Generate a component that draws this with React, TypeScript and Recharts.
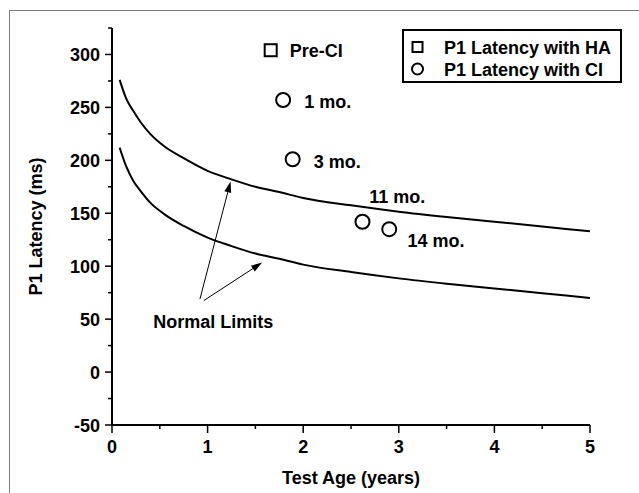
import {
  ComposedChart,
  Legend,
  Line,
  ReferenceDot,
  ReferenceLine,
  Scatter,
  XAxis,
  YAxis,
} from 'recharts'

const FONT = '"Liberation Sans", Arial, Helvetica, sans-serif'

// normal limit curves
const curveAges = [0.08, 0.15, 0.22, 0.3, 0.4, 0.55, 0.75, 1, 1.25, 1.5, 1.75, 2, 2.5, 3, 3.5, 4, 4.5, 5]
const upperLimit = [276, 258, 247, 236, 225, 213, 202, 190, 182, 175, 170, 164.5, 157.5, 151.5, 146.5, 142, 137.5, 133]
const lowerLimit = [212, 194, 181, 171, 160, 149, 138, 127, 119, 112, 107, 101.5, 94.5, 88.5, 83.5, 79, 74.5, 70]

const haAges = [1.66]
const haLatency = [304]
const ciAges = [1.79, 1.89, 2.62, 2.9]
const ciLatency = [257, 201, 142, 135]

const noteText = ['Pre-CI', '1 mo.', '3 mo.', '11 mo.', '14 mo.', 'Normal Limits']
const noteAge = [1.86, 2.01, 2.11, 2.69, 3.09, 1.06]
const noteLatency = [304, 256, 199, 166, 124, 48]

const arrowFrom = [
  { x: 0.92, y: 69 },
  { x: 0.96, y: 67.5 },
]
const arrowTo = [
  { x: 1.24, y: 180 },
  { x: 1.57, y: 103.4 },
]

const legendLabels = ['P1 Latency with HA', 'P1 Latency with CI']

const xTicks = [0, 0.5, 1, 1.5, 2, 2.5, 3, 3.5, 4, 4.5, 5]
const yTicks = [-50, -25, 0, 25, 50, 75, 100, 125, 150, 175, 200, 225, 250, 275, 300, 325]

const zip = (xs: number[], ys: number[]) => xs.map((age, i) => ({ age, latency: ys[i] }))

const upperData = zip(curveAges, upperLimit)
const lowerData = zip(curveAges, lowerLimit)
const haData = zip(haAges, haLatency)
const ciData = zip(ciAges, ciLatency)

const textStyle = { fontFamily: FONT, fontWeight: 700, fontSize: 18, fill: '#000' }

function XTick({ x, y, payload }: any) {
  const v = payload.value
  const major = Number.isInteger(v)
  return (
    <g>
      <line x1={x} y1={y} x2={x} y2={y + (major ? 8 : 4)} stroke="#000" strokeWidth={1.5} />
      {major && (
        <text x={x} y={y + 28} textAnchor="middle" {...textStyle}>
          {v}
        </text>
      )}
    </g>
  )
}

function YTick({ x, y, payload }: any) {
  const v = payload.value
  const major = v % 50 === 0
  return (
    <g>
      <line x1={x} y1={y} x2={x - (major ? 7 : 4)} y2={y} stroke="#000" strokeWidth={1.5} />
      {major && (
        <text x={x - 12} y={y + 6.5} textAnchor="end" {...textStyle}>
          {v}
        </text>
      )}
    </g>
  )
}

function Square({ cx, cy }: any) {
  return <rect x={cx - 6} y={cy - 6} width={12} height={12} fill="#fff" stroke="#000" strokeWidth={2} />
}

function Circle({ cx, cy }: any) {
  return <circle cx={cx} cy={cy} r={7} fill="#fff" stroke="#000" strokeWidth={2} />
}

function Arrow({ x1, y1, x2, y2 }: any) {
  const a = Math.atan2(y2 - y1, x2 - x1)
  const len = 11
  const w = 3.5
  const bx = x2 - len * Math.cos(a)
  const by = y2 - len * Math.sin(a)
  const px = -Math.sin(a) * w
  const py = Math.cos(a) * w
  return (
    <g>
      <line x1={x1} y1={y1} x2={bx} y2={by} stroke="#000" strokeWidth={1} />
      <polygon points={`${x2},${y2} ${bx + px},${by + py} ${bx - px},${by - py}`} fill="#000" />
    </g>
  )
}

function LegendBox() {
  return (
    <svg width={220} height={54} style={{ display: 'block' }}>
      <rect x={1} y={1} width={218} height={52} fill="#fff" stroke="#000" strokeWidth={2} />
      <rect x={10.5} y={13} width={10} height={10} fill="#fff" stroke="#000" strokeWidth={2} />
      <circle cx={15.5} cy={40} r={5.5} fill="#fff" stroke="#000" strokeWidth={2} />
      {legendLabels.map((t, i) => (
        <text key={t} x={42} y={24.5 + i * 22} {...textStyle}>
          {t}
        </text>
      ))}
    </svg>
  )
}

export default function App() {
  return (
    <div style={{ position: 'absolute', left: 0, top: 0, width: 639, height: 493, background: '#fff' }}>
      <div
        style={{
          position: 'absolute',
          left: 9,
          top: 10,
          width: 640,
          height: 490,
          borderLeft: '1.5px solid #808080',
          borderTop: '1.5px solid #808080',
        }}
      />
      <div style={{ position: 'absolute', left: 0, top: 0 }}>
        <ComposedChart width={639} height={493} margin={{ top: 28, right: 49, left: 0, bottom: 0 }}>
          <XAxis
            type="number"
            dataKey="age"
            domain={[0, 5]}
            ticks={xTicks}
            interval={0}
            height={68}
            tickSize={0}
            tickMargin={0}
            tickLine={false}
            tick={<XTick />}
            axisLine={{ stroke: '#000', strokeWidth: 2 }}
            allowDataOverflow
            label={{
              content: ({ viewBox }: any) => (
                <text x={viewBox.x + viewBox.width / 2} y={viewBox.y + 59} textAnchor="middle" {...textStyle}>
                  Test Age (years)
                </text>
              ),
            }}
          />
          <YAxis
            type="number"
            domain={[-50, 325]}
            ticks={yTicks}
            interval={0}
            width={112}
            tickSize={0}
            tickMargin={0}
            tickLine={false}
            tick={<YTick />}
            axisLine={{ stroke: '#000', strokeWidth: 2 }}
            allowDataOverflow
            label={{
              content: ({ viewBox }: any) => {
                const cy = viewBox.y + viewBox.height / 2
                return (
                  <text
                    x={36}
                    y={cy}
                    transform={`rotate(-90 36 ${cy})`}
                    textAnchor="middle"
                    dominantBaseline="central"
                    {...textStyle}
                  >
                    P1 Latency (ms)
                  </text>
                )
              },
            }}
          />
          <Line data={upperData} dataKey="latency" type="monotone" stroke="#000" strokeWidth={2} dot={false} isAnimationActive={false} legendType="none" />
          <Line data={lowerData} dataKey="latency" type="monotone" stroke="#000" strokeWidth={2} dot={false} isAnimationActive={false} legendType="none" />
          <Scatter data={haData} dataKey="latency" shape={<Square />} isAnimationActive={false} />
          <Scatter data={ciData} dataKey="latency" shape={<Circle />} isAnimationActive={false} />
          {arrowFrom.map((p, i) => (
            <ReferenceLine key={i} segment={[p, arrowTo[i]]} shape={<Arrow />} />
          ))}
          {noteText.map((t, i) => (
            <ReferenceDot
              key={t}
              x={noteAge[i]}
              y={noteLatency[i]}
              r={0}
              shape={({ cx, cy }: any) => (
                <text
                  x={cx}
                  y={cy + 6.5}
                  textAnchor={i === noteText.length - 1 ? 'middle' : 'start'}
                  {...textStyle}
                >
                  {t}
                </text>
              )}
            />
          ))}
          <Legend
            layout="vertical"
            align="center"
            verticalAlign="middle"
            wrapperStyle={{ left: 402, top: 29, width: 220, height: 54 }}
            content={() => <LegendBox />}
          />
        </ComposedChart>
      </div>
    </div>
  )
}
